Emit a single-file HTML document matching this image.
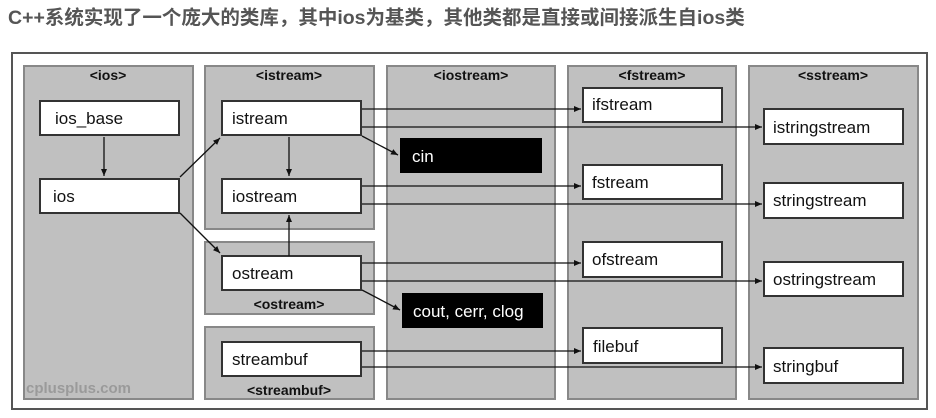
<!DOCTYPE html>
<html><head><meta charset="utf-8"><style>
body{margin:0;background:#fff;width:936px;height:418px;overflow:hidden}
svg{display:block}
.t{font-family:"Liberation Sans",Arial,sans-serif;font-size:17px;fill:#111}
.h{font-family:"Liberation Sans",Arial,sans-serif;font-size:14px;font-weight:bold;fill:#111}
</style></head><body>
<svg width="936" height="418" xmlns="http://www.w3.org/2000/svg">
<defs><marker id="a" markerWidth="8" markerHeight="8" refX="7" refY="3" orient="auto" markerUnits="userSpaceOnUse"><path d="M0,0 L7,3 L0,6z" fill="#111"/></marker></defs>
<text x="8" y="24" style="font-family:'Liberation Sans','Noto Sans CJK SC',sans-serif;font-size:19.5px;font-weight:bold;fill:#555">C++系统实现了一个庞大的类库，其中ios为基类，其他类都是直接或间接派生自ios类</text>
<rect x="12" y="53" width="915" height="356" fill="#fff" stroke="#555" stroke-width="2"/>
<g fill="#c0c0c0" stroke="#888" stroke-width="2">
<rect x="24" y="66" width="169" height="333"/>
<rect x="205" y="66" width="169" height="163"/>
<rect x="205" y="242" width="169" height="72"/>
<rect x="205" y="327" width="169" height="72"/>
<rect x="387" y="66" width="168" height="333"/>
<rect x="568" y="66" width="168" height="333"/>
<rect x="749" y="66" width="169" height="333"/>
</g>
<g text-anchor="middle" class="h">
<text x="108" y="80" class="h">&lt;ios&gt;</text>
<text x="289" y="80" class="h">&lt;istream&gt;</text>
<text x="471" y="80" class="h">&lt;iostream&gt;</text>
<text x="652" y="80" class="h">&lt;fstream&gt;</text>
<text x="833" y="80" class="h">&lt;sstream&gt;</text>
<text x="289" y="309" class="h">&lt;ostream&gt;</text>
<text x="289" y="395" class="h">&lt;streambuf&gt;</text>
</g>
<text x="26" y="393" style="font-family:'Liberation Sans',Arial,sans-serif;font-size:15px;font-weight:bold;fill:#9a9a9a">cplusplus.com</text>
<g fill="#fff" stroke="#333" stroke-width="2">
<rect x="40" y="101" width="139" height="34"/>
<rect x="40" y="179" width="139" height="34"/>
<rect x="222" y="101" width="139" height="34"/>
<rect x="222" y="179" width="139" height="34"/>
<rect x="222" y="256" width="139" height="34"/>
<rect x="222" y="342" width="139" height="34"/>
<rect x="583" y="88" width="139" height="34"/>
<rect x="583" y="165" width="139" height="34"/>
<rect x="583" y="242" width="139" height="35"/>
<rect x="583" y="328" width="139" height="35"/>
<rect x="764" y="109" width="139" height="35"/>
<rect x="764" y="183" width="139" height="35"/>
<rect x="764" y="262" width="139" height="34"/>
<rect x="764" y="348" width="139" height="35"/>
</g>
<rect x="400" y="138" width="142" height="35" fill="#000"/>
<rect x="402" y="293" width="141" height="35" fill="#000"/>
<g class="t">
<text x="55" y="124">ios_base</text>
<text x="53" y="202">ios</text>
<text x="232" y="124">istream</text>
<text x="232" y="202">iostream</text>
<text x="232" y="279">ostream</text>
<text x="232" y="365">streambuf</text>
<text x="592" y="110">ifstream</text>
<text x="592" y="188">fstream</text>
<text x="592" y="265">ofstream</text>
<text x="593" y="352">filebuf</text>
<text x="773" y="133">istringstream</text>
<text x="773" y="206">stringstream</text>
<text x="773" y="285">ostringstream</text>
<text x="773" y="372">stringbuf</text>
<text x="412" y="162" style="fill:#fff">cin</text>
<text x="413" y="317" style="fill:#fff">cout, cerr, clog</text>
</g>
<g stroke="#111" stroke-width="1.3" fill="none" marker-end="url(#a)">
<line x1="104" y1="137" x2="104" y2="176"/>
<line x1="289" y1="137" x2="289" y2="176"/>
<line x1="289" y1="256" x2="289" y2="215"/>
<line x1="180" y1="177" x2="220" y2="138"/>
<line x1="180" y1="213" x2="220" y2="253"/>
<line x1="362" y1="136" x2="398" y2="155"/>
<line x1="362" y1="290" x2="400" y2="310"/>
<line x1="362" y1="109" x2="581" y2="109"/>
<line x1="362" y1="127" x2="762" y2="127"/>
<line x1="362" y1="186" x2="581" y2="186"/>
<line x1="362" y1="204" x2="762" y2="204"/>
<line x1="362" y1="263" x2="581" y2="263"/>
<line x1="362" y1="281" x2="762" y2="281"/>
<line x1="362" y1="351" x2="581" y2="351"/>
<line x1="362" y1="367" x2="762" y2="367"/>
</g>
</svg>
</body></html>
